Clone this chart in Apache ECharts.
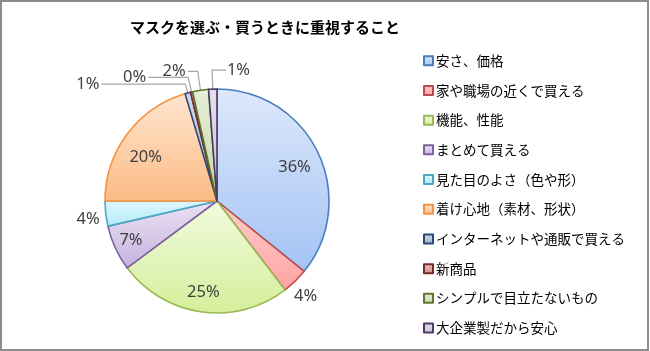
<!DOCTYPE html>
<html>
<head>
<meta charset="utf-8">
<script src="https://cdn.jsdelivr.net/npm/echarts@6/dist/echarts.min.js"></script>
<style>
  html, body { margin: 0; padding: 0; background: #fff; }
  #chart { width: 649px; height: 351px; box-sizing: border-box; border: 2px solid #8c8c8c; }
</style>
</head>
<body>
<div id="chart"></div>
<script>
// 値は元の図から読み取った割合（%）
var titleText = 'マスクを選ぶ・買うときに重視すること';
var categories = ['安さ、価格', '家や職場の近くで買える', '機能、性能', 'まとめて買える', '見た目のよさ（色や形）',
    '着け心地（素材、形状）', 'インターネットや通販で買える', '新商品', 'シンプルで目立たないもの', '大企業製だから安心'];
var values = [35.8, 3.8, 25.2, 6.6, 3.6, 20.4, 0.8, 0.3, 2.3, 1.2];
var fillTop = ['#dde8fb', '#ffcdcd', '#f2fadf', '#ebe3f4', '#e0f7fd', '#ffe6d0', '#d3dbe8', '#e6bdbc', '#e6efd8', '#e5e0ec'];
var fillBottom = ['#a3c3f5', '#ffa3a3', '#d4ef9a', '#c6b2df', '#b2eaf8', '#fbbb84', '#a2b3cd', '#cf8f8d', '#c6d8a4', '#c8bdd8'];
var strokes = ['#4a7ebb', '#be4b48', '#98b954', '#7d60a0', '#46aac5', '#f69240', '#28497a', '#772c2a', '#5f7530', '#4d3b62'];
var insideIdx = [0, 2, 3, 5];
var noLineIdx = [1, 4];
// 小さい項目の引き出し線の長さ
var lineLen = [0, 4, 0, 0, 4, 0, 9, 15, 19, 19];
var lineLen2 = [0, 0, 0, 0, 0, 0, 84, 40, 10, 14];
// ラベルの微調整
var labelShift = { 1: [-6, 12], 4: [0, 5], 9: [54, 0] };
var insideShift = { 0: [-5, 6], 2: [-1, 1], 3: [-3, 1], 5: [2, 11] };

var chart = echarts.init(document.getElementById('chart'));

function fmt(p) { return Math.round(p.percent) + '%'; }

var center = [215, 199];
var R = 112;

var mainData = values.map(function (v, i) {
    return {
        name: categories[i],
        value: v,
        itemStyle: {
            color: new echarts.graphic.LinearGradient(0, 0, 0, 1, [
                { offset: 0, color: fillTop[i] },
                { offset: 1, color: fillBottom[i] }
            ]),
            borderColor: strokes[i],
            borderWidth: 1.6
        },
        label: { show: insideIdx.indexOf(i) < 0 },
        labelLine: { show: noLineIdx.indexOf(i) < 0, length: lineLen[i], length2: lineLen2[i] }
    };
});

var labelData = values.map(function (v, i) {
    return { name: categories[i], value: v, label: { show: insideIdx.indexOf(i) >= 0 } };
});

chart.setOption({
    animation: false,
    title: {
        text: titleText,
        left: 258,
        top: 13,
        textAlign: 'center',
        textStyle: { fontFamily: 'Noto Sans CJK JP', fontSize: 15, fontWeight: 'bold', color: '#000' }
    },
    legend: {
        orient: 'vertical',
        left: 416,
        top: 47,
        itemWidth: 9,
        itemHeight: 9,
        itemGap: 16.2,
        icon: 'rect',
        textStyle: { fontFamily: 'Noto Sans CJK JP', fontSize: 13.5, color: '#000', padding: [0, 0, 0, -2] },
        data: categories
    },
    series: [{
        type: 'pie',
        center: center,
        radius: [0, R],
        startAngle: 90,
        clockwise: true,
        avoidLabelOverlap: false,
        label: {
            position: 'outside',
            formatter: fmt,
            fontFamily: 'Noto Sans', fontSize: 16.5, color: '#404040',
            distanceToLabelLine: 2
        },
        labelLine: { show: true, lineStyle: { color: '#a6a6a6', width: 1.2 } },
        labelLayout: function (p) {
            var s = labelShift[p.dataIndex];
            if (!s) return;
            var res = { dx: s[0], dy: s[1] };
            if (p.dataIndex === 9 && p.labelLinePoints) {
                // 右側へ移したラベルに線を伸ばす
                var pts = p.labelLinePoints;
                res.labelLinePoints = [pts[0], pts[1], [pts[1][0] + lineLen2[9], pts[1][1]]];
            }
            return res;
        },
        data: mainData
    }, {
        type: 'pie',
        center: center,
        radius: [R * 0.58, R],
        startAngle: 90,
        clockwise: true,
        silent: true,
        legendHoverLink: false,
        itemStyle: { color: 'rgba(0,0,0,0)', borderWidth: 0 },
        label: {
            position: 'inside',
            formatter: fmt,
            fontFamily: 'Noto Sans', fontSize: 16.5, color: '#404040'
        },
        labelLine: { show: false },
        labelLayout: function (p) {
            var s = insideShift[p.dataIndex];
            if (s) return { dx: s[0], dy: s[1] };
        },
        emphasis: { disabled: true },
        data: labelData
    }]
});
</script>
</body>
</html>
